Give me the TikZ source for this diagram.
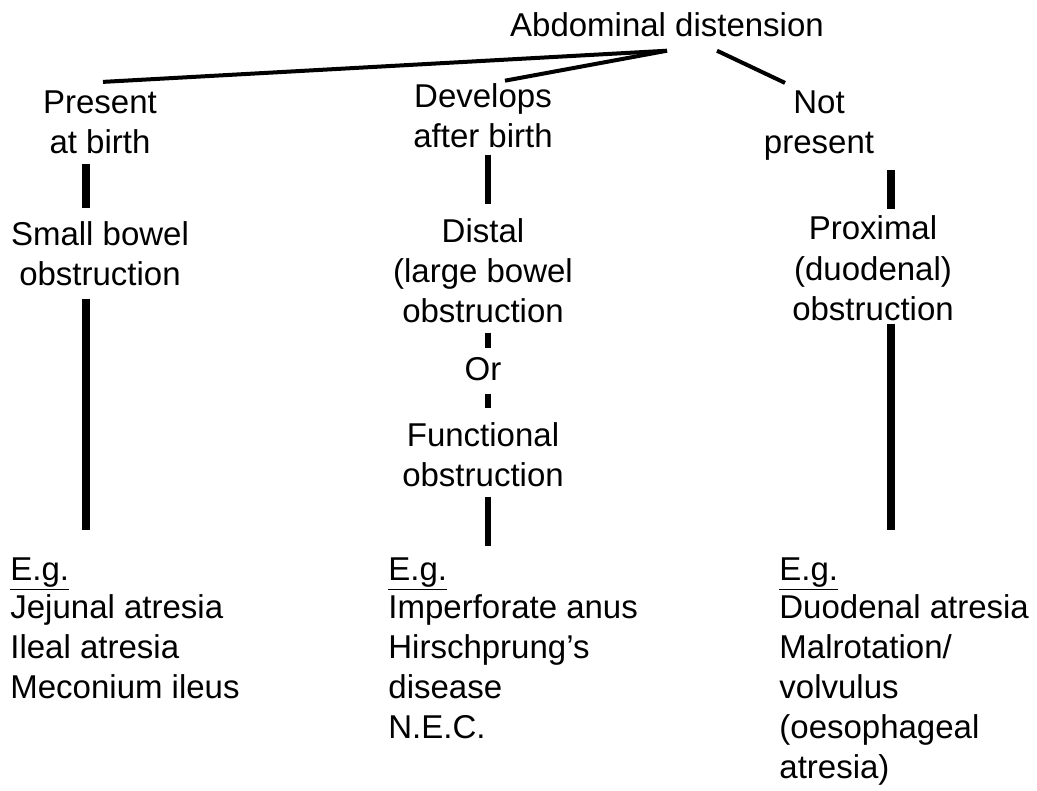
\documentclass[tikz,border=0pt]{standalone}
\usepackage{fontspec}
\setmainfont{Liberation Sans}
\usetikzlibrary{positioning,calc}
\newcommand{\chartfont}{\fontsize{16.5pt}{20pt}\selectfont}
\tikzset{txt/.style={font=\chartfont,align=center,inner sep=0pt,anchor=base},
	 eglist/.style={font=\chartfont,align=left,inner sep=0pt,anchor=base west},
	 tie/.style={line width=2pt},
	 bar/.style={line width=4pt},
	 thinbar/.style={line width=2.7pt}
	 }

\begin{document}
\begin{tikzpicture}[x=0.5pt,y=-0.5pt] % neonatal abdominal distension
	\useasboundingbox (0,0) rectangle (1037,791);
	% base of a node with several lines = its last line
	\node[txt] (top) at (667,37) {Abdominal distension};
	\node[txt] (pab) at (100,154) {Present\\at birth};
	\node[txt] (dab) at (483,148) {Develops\\after birth};
	\node[txt] (np) at (819,154) {Not\\present};
	\node[txt] (sbo) at (100,285) {Small bowel\\obstruction};
	\node[txt] (dist) at (483,322) {Distal\\(large bowel\\obstruction};
	\node[txt] (or) at (483,380) {Or};
	\node[txt] (func) at (483,486) {Functional\\obstruction};
	\node[txt] (prox) at (873,320) {Proximal\\(duodenal)\\obstruction};
	\node[eglist] (eg1) at (10,580) {\underline{E.g.}};
	\node[eglist] (eg2) at (388,580) {\underline{E.g.}};
	\node[eglist] (eg3) at (779,580) {\underline{E.g.}};
	\node[eglist] (ex1) at (10,698) {Jejunal atresia\\Ileal atresia\\Meconium ileus};
	\node[eglist] (ex2) at (388,738) {Imperforate anus\\Hirschprung’s\\disease\\N.E.C.};
	\node[eglist] (ex3) at (779,778) {Duodenal atresia\\Malrotation/\\volvulus\\(oesophageal\\atresia)};
	\coordinate (lcol) at (86,0);
	\coordinate (mcol) at (488,0);
	\coordinate (rcol) at (891,0);
	\draw[tie] ($(top.south)+(0,13)$) -- ($(pab.north)+(3,-9)$);
	\draw[tie] ($(top.south)+(0,13)$) -- ($(dab.north)+(22,-3)$);
	\draw[tie] ($(top.south)+(50,13)$) -- ($(np.north)+(-34,-8)$);
	\draw[bar] ($(lcol |- pab.south)+(0,9)$) -- ($(lcol |- sbo.north)+(0,-13)$);
	\draw[bar] ($(lcol |- sbo.south)+(0,13)$) -- ($(lcol |- eg1.north)+(0,-27)$);
	\draw[thinbar] ($(mcol |- dab.south)+(0,6)$) -- ($(mcol |- dist.north)+(0,-14)$);
	\draw[thinbar] ($(mcol |- dist.south)+(0,10)$) -- ($(mcol |- or.north)+(0,-9)$);
	\draw[thinbar] ($(mcol |- or.south)+(0,13)$) -- ($(mcol |- func.north)+(0,-14)$);
	\draw[thinbar] ($(mcol |- func.south)+(0,10)$) -- ($(mcol |- eg2.north)+(0,-11)$);
	\draw[bar] ($(rcol |- np.south)+(0,9)$) -- ($(rcol |- prox.north)+(0,-7)$);
	\draw[bar] ($(rcol |- prox.south)+(0,3)$) -- ($(rcol |- eg3.north)+(0,-27)$);
\end{tikzpicture}
\end{document}
